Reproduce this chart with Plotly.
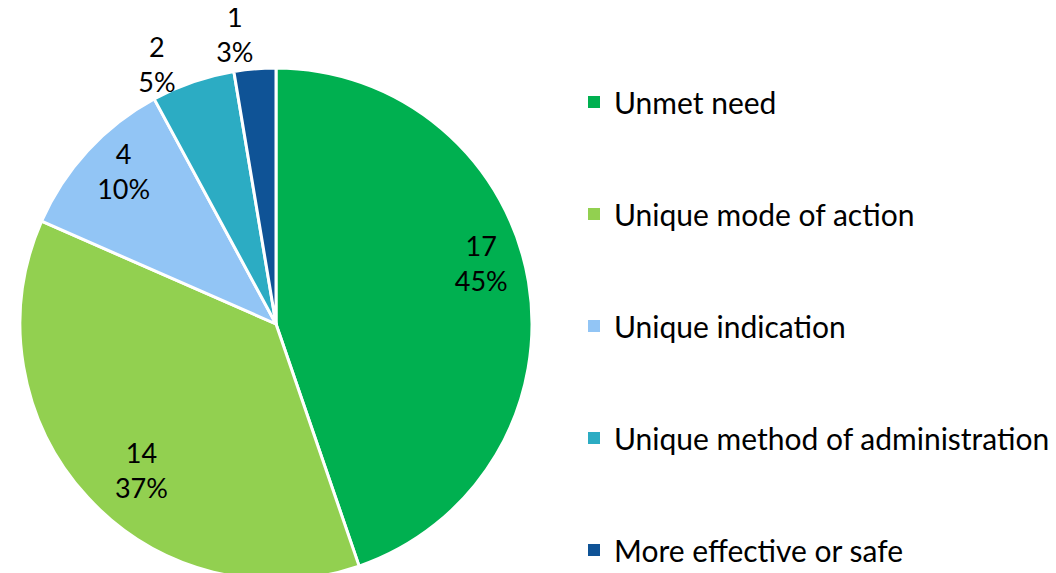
import plotly.graph_objects as go

categories = ["Unmet need", "Unique mode of action", "Unique indication",
              "Unique method of administration", "More effective or safe"]
values = [17, 14, 4, 2, 1]
pct_labels = ["45%", "37%", "10%", "5%", "3%"]
colors = ["#00B050", "#92D050", "#92C5F5", "#2CACC3", "#0F5396"]

W, H = 1056, 573
FONT = "Lato"
CX, CY, R = 268, 316, 256          # pie centre / radius in pixels
LBL_FONT = dict(family=FONT, size=27, color="black")


def dom(rad):
    return dict(x=[(CX - rad) / W, (CX + rad) / W],
                y=[max(0, (H - CY - rad) / H), min(1, (H - CY + rad) / H)])


def positions(show):
    return ["outside" if i in show else "none" for i in range(len(values))]


fig = go.Figure()
# main coloured pie
fig.add_trace(go.Pie(
    labels=categories, values=values, text=pct_labels,
    texttemplate="%{value}<br>%{text}", textposition="none",
    marker=dict(colors=colors, line=dict(color="white", width=3)),
    sort=False, direction="clockwise", rotation=0,
    textfont=LBL_FONT, showlegend=False, hoverinfo="label+value",
    domain=dom(R),
))
# transparent helper pies that only carry data labels (radius fraction, rotation)
for show, frac, rot in [({4}, 1.0, 3.5), ({3}, 0.955, -1), ({0}, 0.67, -10),
                        ({1}, 0.60, -11), ({2}, 0.67, 8)]:
    fig.add_trace(go.Pie(
        labels=categories, values=values, text=pct_labels,
        texttemplate="%{value}<br>%{text}", textposition=positions(show),
        marker=dict(colors=["rgba(0,0,0,0)"] * len(values),
                    line=dict(width=0)),
        sort=False, direction="clockwise", rotation=rot,
        textfont=LBL_FONT, showlegend=False, hoverinfo="skip",
        domain=dom(R * frac),
    ))

for i, (c, col) in enumerate(zip(categories, colors)):
    fig.add_trace(go.Scatter(
        x=[None], y=[None], mode="markers", name=c,
        marker=dict(symbol="square", size=13, color=col),
        legendgroup=f"g{i}", showlegend=True,
    ))

fig.update_layout(
    width=W, height=H,
    margin=dict(l=0, r=0, t=0, b=0, autoexpand=False),
    paper_bgcolor="white", plot_bgcolor="white",
    xaxis=dict(visible=False), yaxis=dict(visible=False),
    legend=dict(x=566 / W, xanchor="left", y=1 - 68 / H, yanchor="top",
                font=dict(family=FONT, size=30, color="black"),
                tracegroupgap=70, itemsizing="constant",
                bgcolor="rgba(0,0,0,0)"),
)

fig.write_html("out.html")
